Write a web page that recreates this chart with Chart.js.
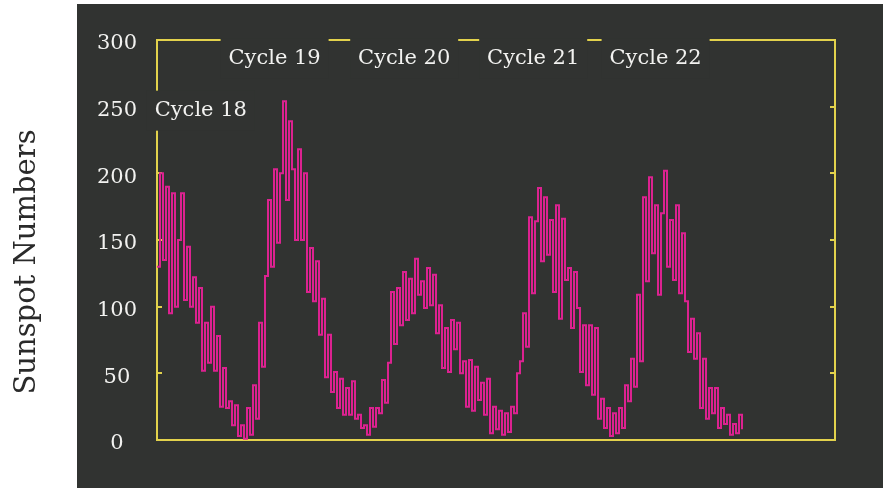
<!DOCTYPE html>
<html>
<head>
<meta charset="utf-8">
<script src="https://cdn.jsdelivr.net/npm/chart.js@4.4.0/dist/chart.umd.min.js"></script>
<style>
  html, body { margin: 0; padding: 0; background: #ffffff; }
  #sunspotChart { display: block; }
</style>
</head>
<body>
<canvas id="sunspotChart" width="883" height="488"></canvas>
<script>
// quarterly sunspot numbers, first value at startYear
const startYear = 1947.75;
const stepYears = 0.25;
const axisEndYear = 2004.25;
const sunspots = [
  130, 200, 135, 190, 95, 185, 100, 150, 185, 105, 145, 100,
  122, 88, 114, 52, 88, 58, 100, 52, 78, 25, 54, 24,
  29, 11, 26, 3, 11, 1, 24, 4, 41, 16, 88, 55,
  123, 180, 130, 203, 148, 200, 254, 180, 239, 203, 150, 218,
  150, 200, 111, 144, 104, 134, 79, 106, 47, 79, 36, 51,
  24, 46, 19, 39, 19, 44, 16, 19, 9, 11, 4, 24,
  10, 24, 20, 45, 28, 58, 111, 72, 114, 86, 126, 90,
  121, 95, 136, 109, 119, 99, 129, 101, 124, 80, 101, 54,
  84, 51, 90, 68, 88, 50, 59, 25, 60, 22, 55, 30,
  43, 19, 46, 5, 25, 8, 22, 4, 20, 6, 25, 20,
  50, 59, 95, 70, 167, 110, 164, 189, 134, 182, 139, 165,
  111, 176, 91, 166, 120, 129, 84, 126, 99, 51, 86, 41,
  86, 34, 84, 16, 31, 9, 24, 3, 20, 5, 24, 9,
  41, 29, 61, 40, 109, 59, 182, 119, 197, 140, 176, 109,
  170, 202, 130, 165, 120, 176, 110, 155, 104, 66, 91, 61,
  80, 24, 61, 16, 39, 20, 39, 9, 24, 12, 19, 4,
  12, 5, 19, 8
];
const yTicks = [0, 50, 100, 150, 200, 250, 300];
const cycleNames = ['Cycle 18', 'Cycle 19', 'Cycle 20', 'Cycle 21', 'Cycle 22'];
const cycleYears = [1951.4, 1957.55, 1968.35, 1979.1, 1989.3];
const cycleLevels = [247, 286, 286, 286, 286];

const PANEL = '#313331';
const YELLOW = '#e2d24c';
const MAGENTA = '#dc2290';
const SERIF = '"DejaVu Serif", serif';

const points = sunspots.map((v, i) => ({ x: startYear + i * stepYears, y: v }));

const framePlugin = {
  id: 'frame',
  beforeDraw(chart) {
    const ctx = chart.ctx;
    ctx.save();
    ctx.fillStyle = PANEL;
    ctx.fillRect(77, 4, chart.width - 77, chart.height - 4);
    // axis title in the white margin
    ctx.translate(27, 262);
    ctx.rotate(-Math.PI / 2);
    ctx.fillStyle = '#2a2a2a';
    ctx.font = '29px ' + SERIF;
    ctx.textAlign = 'center';
    ctx.textBaseline = 'middle';
    ctx.fillText('Sunspot Numbers', 0, 0);
    ctx.restore();
  },
  beforeDatasetsDraw(chart) {
    const { ctx, chartArea: a, scales: { y } } = chart;
    ctx.save();
    ctx.strokeStyle = YELLOW;
    ctx.lineWidth = 2;
    ctx.strokeRect(a.left, a.top, a.right - a.left, a.bottom - a.top);
    ctx.beginPath();
    yTicks.slice(1, -1).forEach(t => {
      const py = Math.round(y.getPixelForValue(t));
      ctx.moveTo(a.left, py);
      ctx.lineTo(a.left + 5, py);
      ctx.moveTo(a.right, py);
      ctx.lineTo(a.right - 5, py);
    });
    ctx.stroke();
    ctx.restore();
  },
  afterDatasetsDraw(chart) {
    const { ctx, scales: { x, y } } = chart;
    ctx.save();
    ctx.font = '21px ' + SERIF;
    ctx.textAlign = 'center';
    ctx.textBaseline = 'middle';
    cycleNames.forEach((name, i) => {
      const cx = x.getPixelForValue(cycleYears[i]);
      const cy = y.getPixelForValue(cycleLevels[i]);
      ctx.fillStyle = PANEL;
      ctx.fillRect(cx - 54, cy - 20, 108, 40);
      ctx.fillStyle = '#f2f2f0';
      ctx.fillText(name, cx, cy);
    });
    ctx.restore();
  }
};

new Chart(document.getElementById('sunspotChart'), {
  type: 'line',
  data: {
    datasets: [{
      data: points,
      borderColor: MAGENTA,
      borderWidth: 2,
      pointRadius: 0,
      stepped: true,
      fill: false
    }]
  },
  options: {
    responsive: false,
    animation: false,
    layout: { padding: { left: 10, top: 40, right: 48, bottom: 48 } },
    plugins: { legend: { display: false }, tooltip: { enabled: false } },
    scales: {
      x: {
        type: 'linear',
        min: startYear,
        max: axisEndYear,
        display: false
      },
      y: {
        min: 0,
        max: 300,
        afterFit(scale) { scale.width = 147; },
        afterBuildTicks(scale) { scale.ticks = yTicks.map(v => ({ value: v })); },
        grid: { display: false },
        border: { display: false },
        ticks: {
          color: '#f2f2f0',
          font: { family: SERIF, size: 21 },
          crossAlign: 'center',
          padding: 12,
          labelOffset: 4
        }
      }
    }
  },
  plugins: [framePlugin]
});
</script>
</body>
</html>
